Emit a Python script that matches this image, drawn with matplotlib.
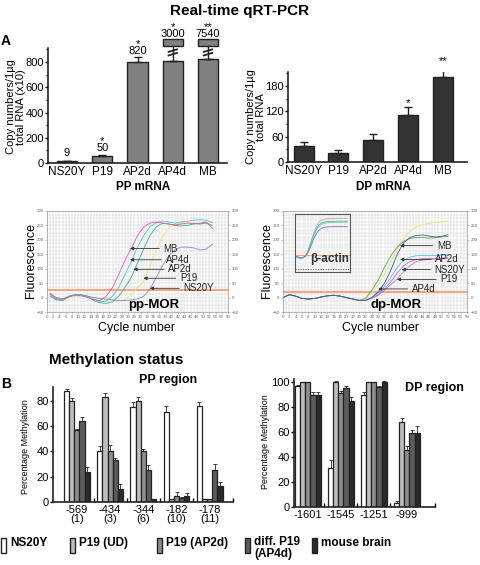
import numpy as np
import matplotlib
matplotlib.use("Agg")
import matplotlib.pyplot as plt
from matplotlib.patches import Rectangle

plt.rcParams["font.family"] = ["Liberation Sans", "DejaVu Sans"]

# ============================================================
# data
# ============================================================

cells = ["NS20Y", "P19", "AP2d", "AP4d", "MB"]

# PP mRNA (x10), AP4d / MB bars are broken
pp_vals = [15, 55, 800, 810, 820]
pp_err = [0, 8, 38, 0, 0]
pp_text = ["9", "50", "820", "3000", "7540"]
pp_stars = ["", "*", "*", "*", "**"]
pp_broken = [False, False, False, True, True]

# DP mRNA
dp_vals = [37, 22, 52, 112, 200]
dp_err = [11, 6, 15, 18, 28]
dp_stars = ["", "", "", "*", "**"]

# amplification curves, pp-MOR
pp_cyc = list(range(1, 54, 2))
pp_mb = [15, -3, -6, 3, 8, 6, 0, -8, -10, 5, 35, 80, 130, 170, 215, 245, 258, 262, 258, 255, 252, 255, 258, 256, 255, 258, 250]
pp_ap4d = [10, -5, -8, 5, 10, 8, 2, -5, -15, -12, 5, 35, 80, 125, 175, 215, 245, 260, 265, 262, 258, 262, 265, 268, 270, 268, 260]
pp_ap2d = [5, -8, -10, 2, 10, 10, 5, -10, -18, -20, -15, 5, 35, 70, 120, 170, 215, 245, 258, 255, 250, 248, 250, 255, 258, 262, 240]
pp_p19 = [8, -5, -8, 0, 5, 5, 2, 0, -5, -8, -10, -12, -8, 10, 35, 55, 110, 165, 210, 240, 255, 258, 260, 258, 255, 258, 262]
pp_ns20y = [12, 0, -5, 5, 10, 8, 5, 0, -3, -5, -8, -10, -10, -8, -5, 5, 30, 70, 110, 145, 165, 175, 175, 172, 165, 168, 185]

# amplification curves, dp-MOR
dp_cyc = list(range(0, 53, 2))
dp_base = [0, 10, 5, -3, -5, -3, 2, 6, 8, 5, 0, -5, -10]
dp_yellow = dp_base + [-5, 15, 45, 80, 125, 170, 205, 230, 245, 253, 257, 260, 262, 265]
dp_green = dp_base + [-3, 25, 60, 105, 145, 175, 195, 205, 208, 208, 206, 207, 210, 212]
dp_mb = dp_base + [-10, 0, 20, 50, 95, 150, 190, 208, 215, 217, 213, 210, 212, 218]
dp_ap2d = dp_base + [-10, 0, 15, 40, 70, 105, 128, 140, 145, 146, 145, 146, 147, 148]
dp_ns20y = dp_base + [-10, -2, 10, 30, 55, 85, 110, 125, 132, 135, 135, 136, 137, 138]
dp_p19 = dp_base + [-10, -3, 8, 25, 45, 65, 90, 110, 125, 130, 132, 133, 135, 136]

# beta-actin inset
act_cyc = list(range(0, 41, 2))
act_1 = [40, 35, 30, 32, 45, 80, 130, 180, 225, 255, 270, 276, 279, 280, 281, 282, 282, 283, 283, 283, 283]
act_2 = [38, 33, 28, 30, 42, 75, 120, 170, 210, 238, 252, 258, 261, 262, 263, 263, 264, 264, 264, 264, 264]
act_3 = [36, 31, 27, 29, 40, 70, 112, 160, 200, 228, 243, 250, 253, 255, 256, 256, 257, 257, 257, 257, 257]
act_4 = [42, 36, 30, 31, 40, 65, 100, 145, 180, 205, 218, 224, 227, 228, 229, 229, 229, 229, 229, 229, 229]

# methylation
pp_sites = ["-569\n(1)", "-434\n(3)", "-344\n(6)", "-182\n(10)", "-178\n(11)"]
ns20y_pp = [88, 40, 75, 71, 76]
ns20y_pp_err = [1.5, 4, 4, 5, 3]
p19ud_pp = [80, 83, 80, 2, 2]
p19ud_pp_err = [2, 3, 3, 0, 0]
p19ap2d_pp = [57, 40, 40, 5, 2]
p19ap2d_pp_err = [1, 5, 2, 3, 0]
ap4d_pp = [64, 33, 25, 3, 25]
ap4d_pp_err = [3, 2, 4, 1, 5]
brain_pp = [24, 10, 2, 5, 13]
brain_pp_err = [4, 4, 0, 2, 3]

dp_sites = ["-1601", "-1545", "-1251", "-999"]
ns20y_dp = [97, 31, 90, 3]
ns20y_dp_err = [1, 7, 2, 2]
p19ud_dp = [100, 100, 100, 68]
p19ud_dp_err = [0, 0.5, 0, 3]
p19ap2d_dp = [100, 91, 100, 46]
p19ap2d_dp_err = [0, 2, 0, 3]
ap4d_dp = [90, 95, 96, 59]
ap4d_dp_err = [2, 2, 1, 3]
brain_dp = [90, 85, 100, 59]
brain_dp_err = [2, 3, 1, 6]

legend_names = ["NS20Y", "P19 (UD)", "P19 (AP2d)", "diff. P19\n(AP4d)", "mouse brain"]
meth_colors = ["white", "#bdbdbd", "#8e8e8e", "#5c5c5c", "#2a2a2a"]

EDGE = "#222222"
W, H = 480, 565

fig = plt.figure(figsize=(W / 100, H / 100), dpi=100)


def px_axes(l, t, r, b):
    return fig.add_axes([l / W, 1 - b / H, (r - l) / W, (b - t) / H])


def style_bar_axes(ax):
    for s in ["top", "right"]:
        ax.spines[s].set_visible(False)
    for s in ["left", "bottom"]:
        ax.spines[s].set_linewidth(1.2)
        ax.spines[s].set_color(EDGE)
    ax.tick_params(axis="y", direction="out", length=2.5, width=1, labelsize=8, pad=0.5)
    ax.tick_params(axis="y", which="minor", direction="out", length=1.8, width=0.8)
    ax.tick_params(axis="x", length=0, labelsize=8.5, pad=2)


# ------------------------------------------------------------
# PP mRNA bars
# ------------------------------------------------------------
ax = px_axes(48, 48, 227, 163)
x = np.arange(len(cells))
ax.bar(x, pp_vals, width=0.57, color="#808080", edgecolor=EDGE, lw=1)
ax.errorbar(x, pp_vals, yerr=[np.zeros(5), pp_err], fmt="none", ecolor=EDGE,
            elinewidth=1, capsize=3)
for i in range(5):
    if pp_broken[i]:
        ax.plot([i, i], [pp_vals[i], 930], color=EDGE, lw=1, clip_on=False)
        for yb in [862, 890]:
            ax.plot([i - 0.12, i + 0.12], [yb - 10, yb + 10], color=EDGE, lw=1.3,
                    clip_on=False)
        ax.add_patch(Rectangle((i - 0.28, 930), 0.56, 50, fc="#808080", ec=EDGE,
                               lw=1, clip_on=False))
        ax.text(i, 985, pp_stars[i] + "\n" + pp_text[i], ha="center", va="bottom",
                fontsize=8, linespacing=0.62)
    else:
        ty = {0: 38, 1: 80, 2: 848}[i]
        lab = pp_text[i] if not pp_stars[i] else pp_stars[i] + "\n" + pp_text[i]
        ax.text(i, ty, lab, ha="center", va="bottom", fontsize=8, linespacing=0.62)
ax.set_xlim(-0.54, 4.54)
ax.set_ylim(0, 911)
ax.set_yticks([0, 200, 400, 600, 800])
ax.set_yticks(np.arange(100, 901, 200), minor=True)
ax.set_xticks(x)
ax.set_xticklabels(cells)
style_bar_axes(ax)

# ------------------------------------------------------------
# DP mRNA bars
# ------------------------------------------------------------
ax = px_axes(288, 72, 467, 162)
ax.bar(x, dp_vals, width=0.57, color="#333333", edgecolor=EDGE, lw=1)
ax.errorbar(x, dp_vals, yerr=[np.zeros(5), dp_err], fmt="none", ecolor=EDGE,
            elinewidth=1, capsize=3)
for i in range(5):
    if dp_stars[i]:
        ax.text(i, dp_vals[i] + dp_err[i] + 10, dp_stars[i], ha="center",
                va="center", fontsize=8)
ax.set_xlim(-0.45, 4.7)
ax.set_ylim(0, 213)
ax.set_yticks([0, 60, 120, 180])
ax.set_yticks([30, 90, 150, 210], minor=True)
ax.set_xticks(x)
ax.set_xticklabels(cells)
style_bar_axes(ax)


# ------------------------------------------------------------
# amplification plots
# ------------------------------------------------------------
def curve_panel(ax, thr):
    ax.set_xlim(0, 58)
    ax.set_ylim(-50, 300)
    ax.vlines(np.arange(0, 59, 1), -50, 300, color="#cfcfcf", lw=0.35, zorder=0)
    ax.hlines(np.arange(-50, 301, 12.5), 0, 58, color="#cfcfcf", lw=0.35, zorder=0)
    ax.axhline(thr, color="#f3a57c", lw=1.4, zorder=1)
    ax.set_xticks(np.arange(0, 59, 2))
    ax.set_yticks(np.arange(-50, 301, 50))
    ax.tick_params(labelsize=3.2, labelcolor="#666666", length=1.5, width=0.4,
                   color="#999999", pad=1, right=True, labelright=True)
    for s in ax.spines.values():
        s.set_color("#999999")
        s.set_linewidth(0.5)


def arrow_label(ax, text, tip_c, text_c, v):
    ax.annotate(text, xy=(tip_c, v), xytext=(text_c, v), ha="left", va="center",
                fontsize=7, color="#222222",
                arrowprops=dict(arrowstyle="-|>", lw=0.6, color="#333333",
                                shrinkA=1, shrinkB=0, mutation_scale=5))


ax = px_axes(47, 211, 228, 312)
curve_panel(ax, 25)
ax.plot(pp_cyc, pp_p19, color="#e9e27a", lw=0.6)
ax.plot(pp_cyc, pp_ns20y, color="#8a88b8", lw=0.6)
ax.plot(pp_cyc, pp_ap2d, color="#3da88c", lw=0.6)
ax.plot(pp_cyc, pp_ap4d, color="#45c6d6", lw=0.6)
ax.plot(pp_cyc, pp_mb, color="#e65aa0", lw=0.6)
arrow_label(ax, "MB", 26.6, 37.3, 170)
arrow_label(ax, "AP4d", 26.6, 38.0, 131)
arrow_label(ax, "AP2d", 27.7, 38.9, 98)
arrow_label(ax, "P19", 30.9, 42.6, 67)
arrow_label(ax, "NS20Y", 33.0, 43.7, 32)
ax.text(26, -27, "pp-MOR", fontsize=9.5, fontweight="bold", va="center")

ax = px_axes(283, 211, 467, 312)
curve_panel(ax, 21)
ax.plot(dp_cyc, dp_yellow, color="#e6e27a", lw=0.6)
ax.plot(dp_cyc, dp_p19, color="#a888d8", lw=0.6)
ax.plot(dp_cyc, dp_ns20y, color="#d865c4", lw=0.6)
ax.plot(dp_cyc, dp_ap2d, color="#4cc6e0", lw=0.6)
ax.plot(dp_cyc, dp_green, color="#4aa84e", lw=0.6)
ax.plot(dp_cyc, dp_mb, color="#50509e", lw=0.6)
arrow_label(ax, "MB", 36.9, 48.5, 180)
arrow_label(ax, "AP2d", 36.9, 48.0, 132)
arrow_label(ax, "NS20Y", 37.4, 47.8, 97)
arrow_label(ax, "P19", 35.9, 49.6, 63)
arrow_label(ax, "AP4d", 30.0, 40.6, 30)
ax.text(27.5, -27, "dp-MOR", fontsize=9.5, fontweight="bold", va="center")

# inset
ax = px_axes(295, 214, 350, 272)
ax.set_xlim(0, 42)
ax.set_ylim(-60, 310)
ax.vlines(np.arange(0, 43, 2), -60, 310, color="#dddddd", lw=0.3, zorder=0)
ax.hlines(np.arange(-60, 311, 15), 0, 42, color="#d0d0d0", lw=0.3, zorder=0)
ax.axhline(50, color="#f3a57c", lw=0.8)
ax.axhline(-40, color="#555555", lw=0.6, ls=(0, (1.5, 1.5)))
ax.plot(act_cyc, act_1, color="#b0a8d8", lw=0.6)
ax.plot(act_cyc, act_2, color="#5cb85c", lw=0.6)
ax.plot(act_cyc, act_3, color="#6ccbd8", lw=0.6)
ax.plot(act_cyc, act_4, color="#7a7aa8", lw=0.6)
ax.text(0.28, 0.22, "β-actin", transform=ax.transAxes, fontsize=8.5,
        fontweight="bold", va="center", color="#333333")
ax.set_xticks([])
ax.set_yticks([])
for s in ax.spines.values():
    s.set_color("#555555")
    s.set_linewidth(0.8)


# ------------------------------------------------------------
# methylation bars
# ------------------------------------------------------------
def meth_panel(ax, series, errs, labels, xlim, ylim, yticks):
    g = np.arange(len(labels))
    bw = 0.155
    for k in range(5):
        ax.bar(g + (k - 2) * bw, series[k], width=bw, color=meth_colors[k],
               edgecolor=EDGE, lw=0.9,
               yerr=[np.zeros(len(g)), errs[k]],
               error_kw=dict(ecolor=EDGE, elinewidth=0.6, capsize=1.5, capthick=0.6))
    ax.set_xlim(*xlim)
    ax.set_ylim(*ylim)
    ax.set_yticks(yticks)
    ax.set_xticks(g)
    ax.set_xticklabels(labels, fontsize=8, linespacing=0.95)
    ax.set_xticks(list(np.arange(len(labels) - 1) + 0.5) + [xlim[1]], minor=True)
    for s in ["top", "right"]:
        ax.spines[s].set_visible(False)
    for s in ["left", "bottom"]:
        ax.spines[s].set_linewidth(1.2)
        ax.spines[s].set_color(EDGE)
    ax.tick_params(axis="y", direction="out", length=2.5, width=1, labelsize=8, pad=0.5)
    ax.tick_params(axis="x", which="major", length=0, pad=2)
    ax.tick_params(axis="x", which="minor", direction="in", length=3, width=1)


ax = px_axes(53, 387, 233, 502)
meth_panel(ax, [ns20y_pp, p19ud_pp, p19ap2d_pp, ap4d_pp, brain_pp],
           [ns20y_pp_err, p19ud_pp_err, p19ap2d_pp_err, ap4d_pp_err, brain_pp_err],
           pp_sites, (-0.72, 4.7), (0, 91), [0, 20, 40, 60, 80])

ax = px_axes(294, 379, 435, 507)
meth_panel(ax, [ns20y_dp, p19ud_dp, p19ap2d_dp, ap4d_dp, brain_dp],
           [ns20y_dp_err, p19ud_dp_err, p19ap2d_dp_err, ap4d_dp_err, brain_dp_err],
           dp_sites, (-0.42, 3.85), (0, 102.4), [0, 20, 40, 60, 80, 100])

# ------------------------------------------------------------
# free text in pixel coordinates
# ------------------------------------------------------------
ov = fig.add_axes([0, 0, 1, 1])
ov.set_xlim(0, W)
ov.set_ylim(H, 0)
ov.axis("off")
ov.set_zorder(10)
ov.patch.set_alpha(0)

ov.text(240, 11, "Real-time qRT-PCR", ha="center", va="center", fontsize=11,
        fontweight="bold")
ov.text(1, 41, "A", ha="left", va="center", fontsize=10, fontweight="bold")
ov.text(1, 384, "B", ha="left", va="center", fontsize=10, fontweight="bold")
ov.text(116, 360, "Methylation status", ha="center", va="center", fontsize=11,
        fontweight="bold")
ov.text(168, 380, "PP region", ha="center", va="center", fontsize=9,
        fontweight="bold")
ov.text(434, 388, "DP region", ha="center", va="center", fontsize=9,
        fontweight="bold")
ov.text(143, 187, "PP mRNA", ha="center", va="center", fontsize=8.5,
        fontweight="bold")
ov.text(383, 187, "DP mRNA", ha="center", va="center", fontsize=8.5,
        fontweight="bold")
ov.text(16, 107, "Copy numbers/1µg\ntotal RNA (x10)", ha="center", va="center",
        rotation=90, fontsize=8, linespacing=1.05)
ov.text(256, 117, "Copy numbers/1µg\ntotal RNA", ha="center", va="center",
        rotation=90, fontsize=8, linespacing=1.05)
ov.text(31, 260, "Fluorescence", ha="center", va="center", rotation=90, fontsize=9)
ov.text(267, 260, "Fluorescence", ha="center", va="center", rotation=90, fontsize=9)
ov.text(136, 328, "Cycle number", ha="center", va="center", fontsize=9)
ov.text(380, 328, "Cycle number", ha="center", va="center", fontsize=9)
ov.text(26, 447, "Percentage Methylation", ha="center", va="center", rotation=90,
        fontsize=6.5)
ov.text(265, 442, "Percentage Methylation", ha="center", va="center", rotation=90,
        fontsize=6.5)

# legend
leg_x = [1, 70, 157, 245, 312]
for k in range(5):
    ov.add_patch(Rectangle((leg_x[k], 538), 5, 15, fc=meth_colors[k], ec=EDGE, lw=1))
    ty = 543 if "\n" not in legend_names[k] else 548
    ov.text(leg_x[k] + 9, ty, legend_names[k], ha="left", va="center", fontsize=8.5,
            fontweight="bold", linespacing=1.0)

fig.savefig("out.png", dpi=100)
